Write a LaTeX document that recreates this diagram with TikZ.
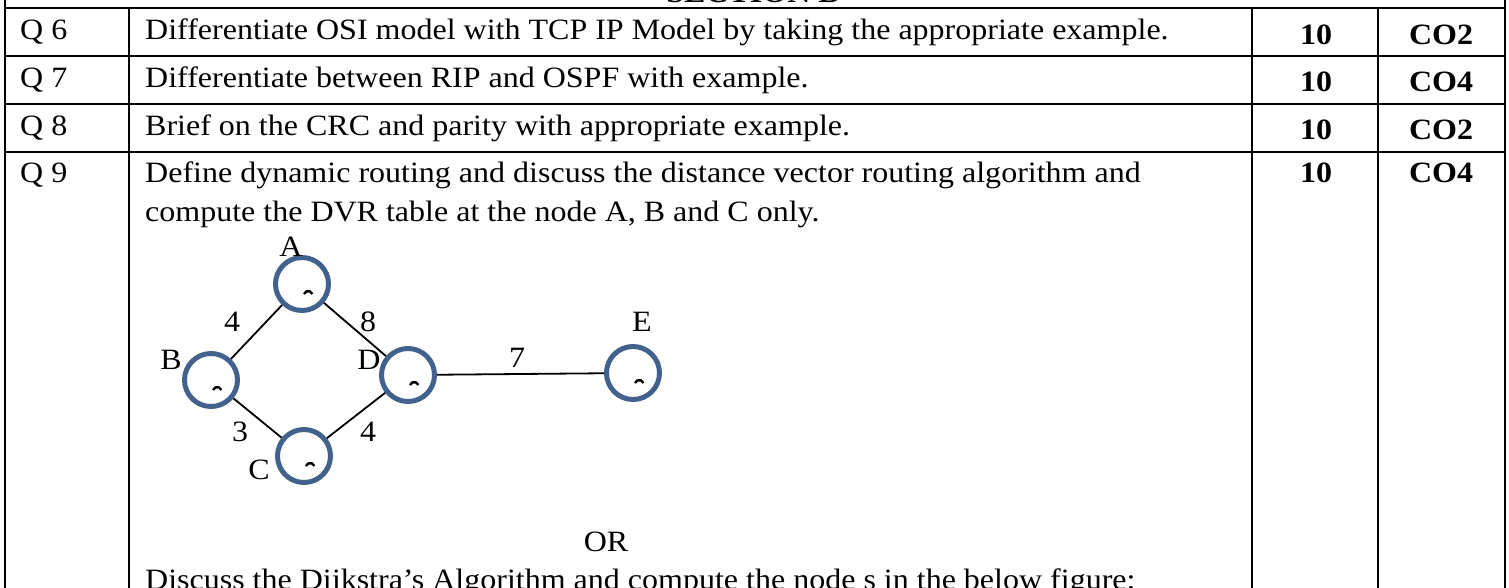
\documentclass[tikz,border=0pt]{standalone}
\usepackage{fontspec}
\setmainfont[FakeStretch=1.085]{Liberation Serif}
\begin{document}
\begin{tikzpicture}[x=1pt,y=-1pt,
  txt/.style={anchor=base west,inner sep=0pt,font=\fontsize{29.5}{36}\selectfont},
  ctxt/.style={anchor=base,inner sep=0pt,font=\fontsize{29.5}{36}\selectfont},
  btxt/.style={anchor=base,inner sep=0pt,font=\fontsize{29.5}{36}\selectfont\bfseries},
  grid/.style={line width=1.5pt,black},
  vert/.style={circle,draw=vblue,line width=5pt,minimum size=53pt,inner sep=0pt},
  edge/.style={line width=1.8pt,black},
  tick/.style={line width=2.4pt,black}
]
\definecolor{vblue}{RGB}{66,98,142}
\useasboundingbox (0,0) rectangle (1509,588);
% table lines
\draw[grid] (5,-5) -- (5,600);
\draw[grid] (1505,-5) -- (1505,600);
\draw[grid] (5,8) -- (1505,8);
\draw[grid] (5,56) -- (1505,56);
\draw[grid] (5,104) -- (1505,104);
\draw[grid] (5,152) -- (1505,152);
\draw[grid] (129,8) -- (129,600);
\draw[grid] (1252,8) -- (1252,600);
\draw[grid] (1378,8) -- (1378,600);
% clipped heading
\node[btxt] (sec) at (753,3) {SECTION B};
% row labels
\node[txt] (q6) at (20,40) {Q 6};
\node[txt] (q7) at (20,88) {Q 7};
\node[txt] (q8) at (20,136) {Q 8};
\node[txt] (q9) at (20,183) {Q 9};
% questions
\node[txt] (t6) at (145,40) {Differentiate OSI model with TCP IP Model by taking the appropriate example.};
\node[txt] (t7) at (145,88) {Differentiate between RIP and OSPF with example.};
\node[txt] (t8) at (145,136) {Brief on the CRC and parity with appropriate example.};
\node[txt] (t9a) at (145,183) {Define dynamic routing and discuss the distance vector routing algorithm and};
\node[txt] (t9b) at (145,222) {compute the DVR table at the node A, B and C only.};
\node[ctxt] (or) at (606,551) {OR};
\node[txt] (t9c) at (145,589) {Discuss the Dijkstra’s Algorithm and compute the node s in the below figure:};
% marks and COs
\node[btxt] (m6) at (1316,45) {10};
\node[btxt] (m7) at (1316,92) {10};
\node[btxt] (m8) at (1316,140) {10};
\node[btxt] (m9) at (1316,183) {10};
\node[btxt] (c6) at (1441,45) {CO2};
\node[btxt] (c7) at (1441,92) {CO4};
\node[btxt] (c8) at (1441,140) {CO2};
\node[btxt] (c9) at (1441,183) {CO4};
% graph
\node[vert] (A) at (302,284) {};
\node[vert] (B) at (211,380) {};
\node[vert] (C) at (304,456) {};
\node[vert] (D) at (408,375) {};
\node[vert] (E) at (633,373) {};
\foreach \n in {A,B,C,D,E}{
  \draw[tick] ([shift={(2,10)}]\n.center) arc[start angle=160,end angle=20,radius=4.5pt];
}
\draw[edge] (A) -- (B);
\draw[edge] (A) -- (D);
\draw[edge] (B) -- (C);
\draw[edge] (C) -- (D);
\draw[edge] (D) -- (E);
\node[ctxt] (lA) at (291,256) {A};
\node[ctxt] (lB) at (171,369) {B};
\node[ctxt] (lC) at (259,479) {C};
\node[ctxt] (lD) at (369,369) {D};
\node[ctxt] (lE) at (642,331) {E};
\node[ctxt] (w1) at (232,331) {4};
\node[ctxt] (w2) at (368,331) {8};
\node[ctxt] (w3) at (240,441) {3};
\node[ctxt] (w4) at (368,441) {4};
\node[ctxt] (w5) at (517,367) {7};
\end{tikzpicture}
\end{document}
